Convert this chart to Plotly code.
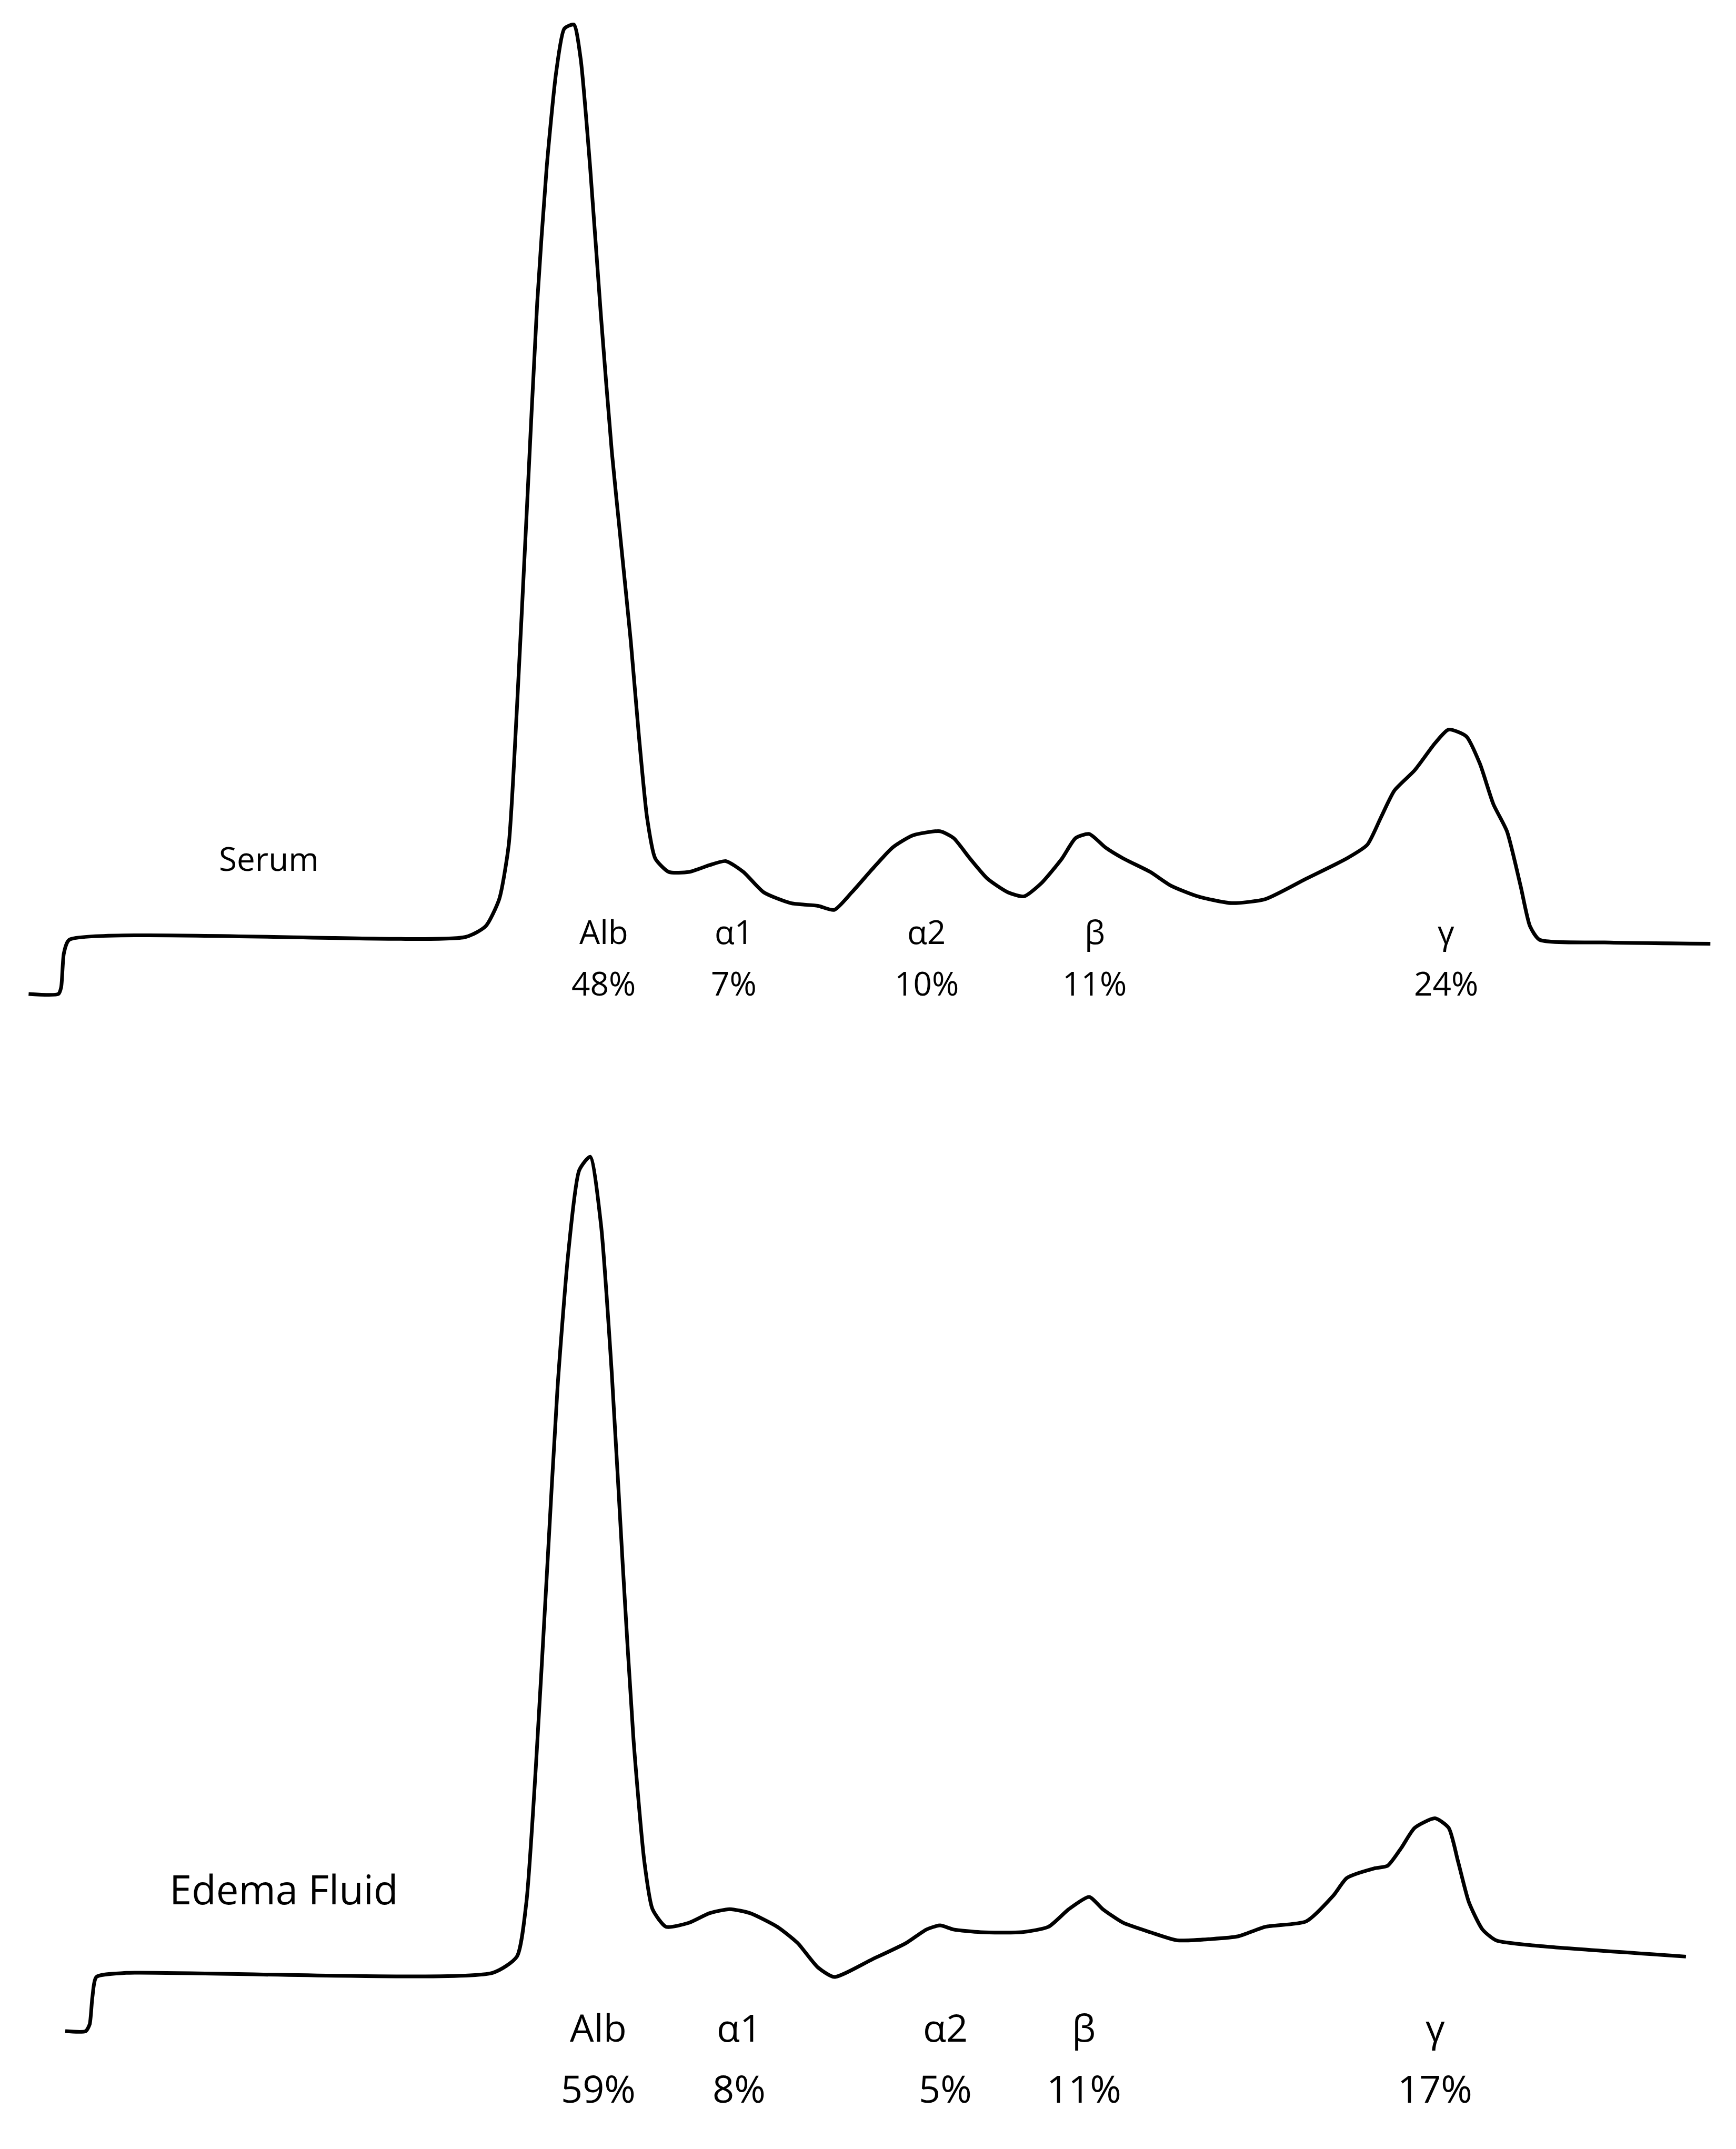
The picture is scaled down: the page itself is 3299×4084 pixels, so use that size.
import plotly.graph_objects as go

# traces (x position, y position in display units, y grows downward)
serum_x = [18, 40, 42, 44, 48, 340, 355, 365, 372, 378, 385, 393, 400, 407, 413, 420, 425, 432, 440, 448, 455, 462, 468, 474, 480, 490, 505, 520, 532, 545, 560, 580, 600, 612, 625, 640, 655, 670, 690, 700, 712, 725, 740, 752, 765, 780, 790, 800, 812, 825, 845, 860, 880, 905, 930, 960, 990, 1005, 1015, 1025, 1040, 1055, 1065, 1078, 1088, 1098, 1108, 1118, 1125, 1132, 1180, 1258]
serum_y = [730, 730, 725, 700, 690, 688, 680, 660, 620, 520, 380, 220, 120, 50, 18, 15, 40, 120, 230, 330, 400, 470, 540, 600, 630, 640, 640, 635, 632, 640, 655, 663, 665, 668, 655, 638, 622, 613, 610, 615, 630, 645, 655, 658, 648, 630, 615, 612, 622, 630, 640, 650, 658, 663, 660, 645, 630, 620, 600, 580, 565, 545, 535, 540, 560, 590, 610, 650, 680, 690, 692, 693]

edema_x = [45, 60, 63, 65, 68, 90, 360, 378, 385, 392, 400, 408, 416, 424, 432, 440, 448, 456, 464, 472, 478, 488, 505, 520, 535, 550, 570, 585, 600, 612, 640, 665, 680, 690, 700, 720, 750, 770, 785, 800, 810, 825, 845, 865, 890, 910, 930, 960, 980, 990, 1010, 1020, 1030, 1040, 1055, 1065, 1072, 1080, 1090, 1100, 1130, 1240]
edema_y = [1495, 1495, 1490, 1470, 1455, 1452, 1452, 1440, 1400, 1300, 1160, 1020, 920, 860, 850, 900, 1010, 1150, 1280, 1370, 1405, 1418, 1415, 1408, 1405, 1408, 1418, 1430, 1448, 1455, 1442, 1430, 1420, 1417, 1420, 1422, 1422, 1418, 1405, 1396, 1405, 1415, 1422, 1428, 1427, 1425, 1418, 1414, 1395, 1382, 1375, 1373, 1360, 1345, 1338, 1345, 1370, 1400, 1420, 1428, 1432, 1440]

fractions = ["Alb", "α1", "α2", "β", "γ"]
serum_label_x = [442, 538, 680, 804, 1063]
serum_pct = ["48%", "7%", "10%", "11%", "24%"]
edema_label_x = [438, 542, 694, 796, 1055]
edema_pct = ["59%", "8%", "5%", "11%", "17%"]

fig = go.Figure()
for xs, ys in [(serum_x, serum_y), (edema_x, edema_y)]:
    fig.add_trace(go.Scatter(x=xs, y=ys, mode="lines", line=dict(color="black", width=7, shape="spline", smoothing=0.6),
                             hoverinfo="skip", showlegend=False))

fig.add_annotation(x=195, y=630, text="Serum", showarrow=False, font=dict(size=62, color="black"))
fig.add_annotation(x=206, y=1390, text="Edema Fluid", showarrow=False, font=dict(size=76, color="black"))
for name, x, p in zip(fractions, serum_label_x, serum_pct):
    fig.add_annotation(x=x, y=684, text=name, showarrow=False, font=dict(size=62, color="black"))
    fig.add_annotation(x=x, y=722, text=p, showarrow=False, font=dict(size=62, color="black"))
for name, x, p in zip(fractions, edema_label_x, edema_pct):
    fig.add_annotation(x=x, y=1492, text=name, showarrow=False, font=dict(size=72, color="black"))
    fig.add_annotation(x=x, y=1537, text=p, showarrow=False, font=dict(size=72, color="black"))

fig.update_xaxes(range=[0, 1280], visible=False)
fig.update_yaxes(range=[1585, 0], visible=False)
fig.update_layout(width=3299, height=4084, margin=dict(l=0, r=0, t=0, b=0),
                  plot_bgcolor="white", paper_bgcolor="white",
                  font=dict(family="Open Sans, DejaVu Sans, sans-serif"))
fig.write_html("out.html")
